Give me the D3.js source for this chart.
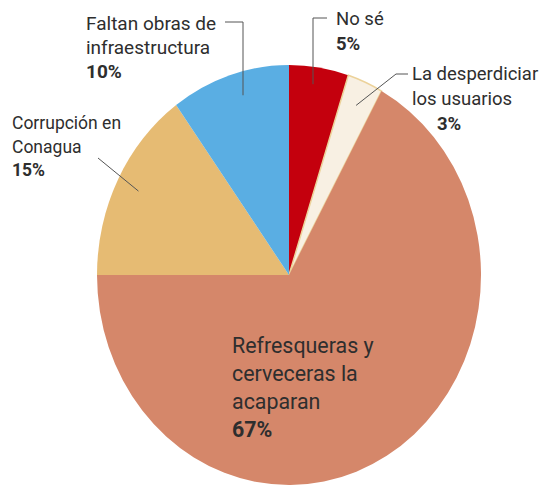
<!DOCTYPE html>
<html>
<head>
<meta charset="utf-8">
<script src="https://cdn.jsdelivr.net/npm/d3@7"></script>
<style>
  body { margin: 0; background: #fff; }
  text { font-family: Roboto, "Liberation Sans", sans-serif; fill: #2e2e2e; }
  .pct { font-weight: bold; }
</style>
</head>
<body>
<script>
// data, clockwise from 12 o'clock
var labels = ["No sé", "La desperdiciar los usuarios", "Refresqueras y cerveceras la acaparan", "Corrupción en Conagua", "Faltan obras de infraestructura"];
var values = [5, 3, 67, 15, 10];
var colors = ["#c4000d", "#f8f0e3", "#d5876a", "#e6bb73", "#5aaee3"];

var w = 540, h = 486;
var cx = 289, cy = 275;
var rx = 192, ry = 210;

var svg = d3.select("body").append("svg")
  .attr("width", w)
  .attr("height", h);

var pie = d3.pie().sort(null).value(d => d.value);
var arcs = pie(values.map((v, i) => ({ label: labels[i], value: v, color: colors[i] })));

// draw the pie on a unit circle, stretched to an ellipse
var arc = d3.arc().innerRadius(0).outerRadius(1);

var g = svg.append("g")
  .attr("transform", "translate(" + cx + "," + cy + ") scale(" + rx + "," + ry + ")");

g.selectAll("path")
  .data(arcs)
  .enter()
  .append("path")
  .attr("d", arc)
  .attr("fill", d => d.data.color)
  .attr("stroke", (d, i) => i == 1 ? "#ecd29a" : "none")
  .attr("stroke-width", 1.5)
  .attr("vector-effect", "non-scaling-stroke");

// point on the ellipse at the middle of slice d, fraction f of radius
function pt(d, f) {
  var a = (d.startAngle + d.endAngle) / 2;
  return [cx + Math.sin(a) * rx * f, cy - Math.cos(a) * ry * f];
}

// leader lines
var line = d3.line();
var leaders = [
  [[327, 18], [313, 18], [313, pt(arcs[0], 0.92)[1]]],
  [[408, 74], [396, 74], pt(arcs[1], 0.88)],
  [[98, 158], pt(arcs[3], 0.88)],
  [[225, 22], [243, 22], [243, pt(arcs[4], 0.9)[1]]]
];
svg.selectAll("path.leader")
  .data(leaders)
  .enter()
  .append("path")
  .attr("class", "leader")
  .attr("d", d => line(d))
  .attr("fill", "none")
  .attr("stroke", "#555")
  .attr("stroke-width", 1);

// labels
function block(x, y, lines, pct, size, lh, pctX) {
  var t = svg.append("g");
  lines.forEach((s, i) => {
    t.append("text")
      .attr("x", x)
      .attr("y", y + i * lh)
      .attr("font-size", size + "px")
      .text(s);
  });
  t.append("text")
    .attr("class", "pct")
    .attr("x", pctX == null ? x : pctX)
    .attr("y", y + lines.length * lh)
    .attr("font-size", size + "px")
    .text(pct);
}

block(336, 25, ["No sé"], values[0] + "%", 18.5, 25);
block(412, 80, ["La desperdiciar", "los usuarios"], values[1] + "%", 18.5, 25, 437);
block(232, 353, ["Refresqueras y", "cerveceras la", "acaparan"], values[2] + "%", 21.4, 28);
block(12, 129, ["Corrupción en", "Conagua"], values[3] + "%", 17.5, 23.5);
block(86, 30, ["Faltan obras de", "infraestructura"], values[4] + "%", 19, 24);
</script>
</body>
</html>
